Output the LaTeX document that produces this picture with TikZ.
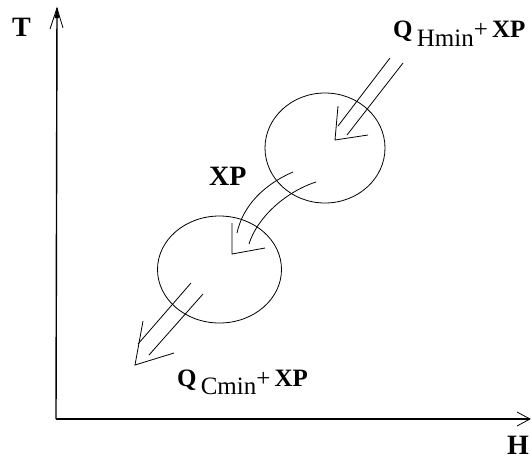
\documentclass[tikz,border=0pt]{standalone}
\usepackage{fontspec}
\setmainfont{Liberation Serif}
\begin{document}
\begin{tikzpicture}[x=1pt,y=-1pt,
  axis/.style={line width=1.4pt,black},
  thin/.style={line width=0.8pt,black},
  biglbl/.style={font=\fontsize{28}{30}\selectfont\bfseries,inner sep=0pt,anchor=base west},
  lbl/.style={font=\fontsize{25}{28}\selectfont,inner sep=0pt,anchor=base west}]
\useasboundingbox (0,0) rectangle (532,459);
% axes
\coordinate (O) at (56,419);
\coordinate (Ttip) at (57,8);
\coordinate (Htip) at (530,419);
\draw[axis] (O) -- (Ttip);
\draw[axis] (O) -- (Htip);
\draw[thin] (50,29) -- (Ttip) -- (63,28);
\fill (Ttip) -- (54.5,18) -- (59.5,18) -- cycle;
\draw[thin] (517,412) -- (Htip) -- (517,426);
\node[biglbl] (T) at (12,36) {T};
\node[biglbl] (H) at (507,454) {H};
% circles
\draw[thin] (325,148) ellipse [x radius=60, y radius=55];
\draw[thin] (219.5,269.5) ellipse [x radius=62, y radius=53.5];
% upper arrow
\draw[thin] (390,58) -- (338,126);
\draw[thin] (403,63) -- (347,135);
\draw[thin] (338,106) -- (335,140) -- (368,135);
% middle arrow
\draw[thin] (293,172) .. controls (265,184) and (243,205) .. (237,233);
\draw[thin] (316,182) .. controls (285,192) and (257,218) .. (249,244);
\draw[thin] (232,223) -- (232,254) -- (265,248);
% lower arrow
\draw[thin] (191,283) -- (138,344);
\draw[thin] (203,294) -- (149,355);
\draw[thin] (143,321) -- (135,365) -- (174,353);
% labels
\node[lbl] (top) at (393,37) {\textbf{Q}\,\raisebox{-0.8ex}{Hmin}+\,\textbf{XP}};
\node[lbl] (bot) at (177,386) {\textbf{Q}\,\raisebox{-0.7ex}{Cmin}+\,\textbf{XP}};
\node[biglbl] (xp) at (209,185) {XP};
\end{tikzpicture}
\end{document}
